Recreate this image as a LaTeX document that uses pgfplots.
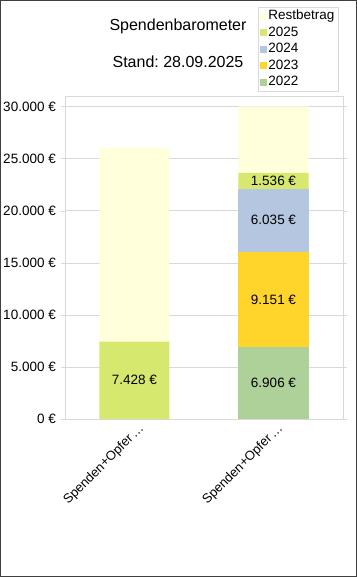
\documentclass[border=0pt]{standalone}
\usepackage{fontspec}
\setmainfont{Liberation Sans}
\usepackage{pgfplots}
\pgfplotsset{compat=1.18}
\definecolor{crest}{HTML}{FFFFDC}
\definecolor{c25}{HTML}{D6E96E}
\definecolor{c24}{HTML}{B4C6E0}
\definecolor{c23}{HTML}{FFD42B}
\definecolor{c22}{HTML}{AED199}
\definecolor{gridc}{HTML}{D9D9D9}
\pgfplotsset{leg/.style={legend image code/.code={\fill[##1,draw=none] (0bp,-3.5bp) rectangle (7bp,3.5bp);}}}
\begin{document}
\frenchspacing
\fontsize{13.5bp}{16bp}\selectfont
\begin{tikzpicture}
\useasboundingbox (-65bp,-158bp) rectangle (292bp,419bp);
\draw[line width=1.5bp, black!75] (-64.25bp,-157.25bp) rectangle (291.25bp,418.25bp);
\begin{axis}[
  scale only axis, width=278bp, height=323bp,
  ybar stacked, bar width=70bp,
  xmin=-0.5, xmax=1.5, ymin=0, ymax=31000,
  scaled y ticks=false,
  xtick={0,1}, xticklabels={Spenden+Opfer\,…, Spenden+Opfer\,…},
  x tick style={draw=none},
  extra x ticks={0.5,1.5}, extra x tick labels={},
  extra x tick style={tick style={draw=gridc}, major tick length=4bp, tick align=outside, grid=none},
  ytick={0,5000,10000,15000,20000,25000,30000},
  yticklabels={0 €,5.000 €,10.000 €,15.000 €,20.000 €,25.000 €,30.000 €},
  y tick style={draw=gridc}, major tick length=4bp, tick align=outside,
  ymajorgrids, grid style={gridc},
  axis line style={gridc},
  xticklabel style={rotate=45, anchor=north east, inner sep=1bp, xshift=4bp, yshift=-0.5bp, font=\fontsize{13bp}{15bp}\selectfont},
  yticklabel style={inner sep=2bp, xshift=-3bp},
  clip=false,
  reverse legend,
  legend style={at={(rel axis cs:0.982,1.0155)}, anchor=south east,
    draw=gridc, inner xsep=2bp, inner ysep=1.5bp, row sep=2bp,
    nodes={inner sep=1.5bp, anchor=west}},
  legend cell align=left,
  point meta=explicit symbolic,
  every node near coord/.style={anchor=center, text=black, font=\fontsize{13.5bp}{16bp}\selectfont},
]
\addplot[fill=c22, draw=none, leg, nodes near coords] coordinates {(0,0)[] (1,6906)[6.906 €]};
\addplot[fill=c23, draw=none, leg, nodes near coords] coordinates {(0,0)[] (1,9151)[9.151 €]};
\addplot[fill=c24, draw=none, leg, nodes near coords] coordinates {(0,0)[] (1,6035)[6.035 €]};
\addplot[fill=c25, draw=none, leg, nodes near coords] coordinates {(0,7428)[7.428 €] (1,1536)[1.536 €]};
\addplot[fill=crest, draw=none, leg] coordinates {(0,18572)[] (1,6372)[]};
\legend{2022,2023,2024,2025,Restbetrag}
\node[font=\fontsize{16bp}{19bp}\selectfont] at ([xshift=113bp, yshift=70bp]rel axis cs:0,1) {Spendenbarometer};
\node[font=\fontsize{16bp}{19bp}\selectfont] at ([xshift=113bp, yshift=34bp]rel axis cs:0,1) {Stand: 28.09.2025};
\end{axis}
\end{tikzpicture}
\end{document}
